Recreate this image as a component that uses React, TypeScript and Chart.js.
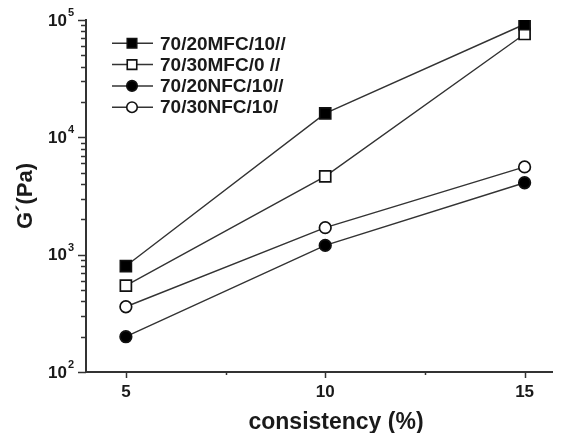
import React, { useEffect, useRef } from "react";
import { Chart, registerables } from "chart.js";

Chart.register(...registerables);

const consistency = [5, 10, 15];
const mfc20 = [800, 16000, 92000];
const mfc30 = [545, 4650, 76000];
const nfc20 = [200, 1200, 4100];
const nfc30 = [360, 1700, 5600];
const seriesNames = ["70/20MFC/10//", "70/30MFC/0 //", "70/20NFC/10//", "70/30NFC/10/"];
const xTickValues = [5, 7.5, 10, 12.5, 15];
const xTickLabels = ["5", "", "10", "", "15"];
const yDecades = [2, 3, 4, 5];
const xTitle = "consistency (%)";
const yTitle = "G´(Pa)";

const FONT = '"Liberation Sans", Arial, Helvetica, sans-serif';
const INK = "#1a1a1a";
const AXIS = "#333333";

type Marker = { style: "rect" | "circle"; filled: boolean };
const markers: Marker[] = [
  { style: "rect", filled: true },
  { style: "rect", filled: false },
  { style: "circle", filled: true },
  { style: "circle", filled: false },
];

function drawMarker(ctx: CanvasRenderingContext2D, m: Marker, x: number, y: number, size: number) {
  ctx.save();
  ctx.lineWidth = 1.6;
  ctx.strokeStyle = "#111";
  ctx.fillStyle = m.filled ? "#000" : "#fff";
  ctx.beginPath();
  if (m.style === "rect") {
    ctx.rect(x - size / 2, y - size / 2, size, size);
  } else {
    ctx.arc(x, y, size / 2, 0, Math.PI * 2);
  }
  ctx.fill();
  ctx.stroke();
  ctx.restore();
}

const decorPlugin = {
  id: "decor",
  afterDraw(chart: any) {
    const ctx: CanvasRenderingContext2D = chart.ctx;
    const xs = chart.scales.x;
    const ys = chart.scales.y;
    const area = chart.chartArea;
    ctx.save();
    ctx.strokeStyle = AXIS;
    ctx.lineWidth = 1.5;
    // y tick marks (major + minor log)
    for (const k of yDecades) {
      for (let m = 1; m <= 9; m++) {
        const v = m * Math.pow(10, k);
        const py = Math.round(ys.getPixelForValue(v)) + 0.5;
        const len = m === 1 ? 8 : 5;
        ctx.beginPath();
        ctx.moveTo(area.left - len, py);
        ctx.lineTo(area.left, py);
        ctx.stroke();
        if (k === 5) break;
      }
    }
    // x tick marks
    xTickValues.forEach((v, i) => {
      const px = Math.round(xs.getPixelForValue(v)) + 0.5;
      const len = xTickLabels[i] ? 6 : 3;
      ctx.beginPath();
      ctx.moveTo(px, area.bottom);
      ctx.lineTo(px, area.bottom + len);
      ctx.stroke();
    });
    // y tick labels with superscript exponents
    ctx.fillStyle = INK;
    for (const k of yDecades) {
      const py = ys.getPixelForValue(Math.pow(10, k));
      const expX = area.left - 12;
      ctx.font = `bold 11px ${FONT}`;
      ctx.textAlign = "right";
      ctx.textBaseline = "middle";
      const expW = ctx.measureText(String(k)).width;
      ctx.fillText(String(k), expX, py - 7);
      ctx.font = `bold 17px ${FONT}`;
      ctx.fillText("10", expX - expW - 1, py + 1);
    }
    // x axis title
    ctx.font = `bold 23px ${FONT}`;
    ctx.textAlign = "center";
    ctx.textBaseline = "middle";
    ctx.fillText(xTitle, 336, 423);
    // legend
    const lx0 = 112, lx1 = 153, mx = 132, tx = 160, ly0 = 43.3, dy = 21.3;
    seriesNames.forEach((name, i) => {
      const y = ly0 + i * dy;
      ctx.strokeStyle = AXIS;
      ctx.lineWidth = 1.5;
      ctx.beginPath();
      ctx.moveTo(lx0, y);
      ctx.lineTo(lx1, y);
      ctx.stroke();
      const mk = markers[i];
      drawMarker(ctx, mk, mx, y, mk.style === "rect" ? 9.5 : 10.5);
      ctx.fillStyle = INK;
      ctx.font = `bold 19px ${FONT}`;
      ctx.textAlign = "left";
      ctx.textBaseline = "middle";
      ctx.fillText(name, tx, y + 1);
    });
    ctx.restore();
  },
};

function makeDataset(label: string, values: number[], m: Marker) {
  return {
    label,
    data: consistency.map((x, i) => ({ x, y: values[i] })),
    borderColor: AXIS,
    borderWidth: 1.4,
    pointStyle: m.style,
    pointRadius: m.style === "rect" ? 7.8 : 5.8,
    pointBorderWidth: 1.7,
    pointBorderColor: "#111",
    pointBackgroundColor: m.filled ? "#000" : "#fff",
    tension: 0,
    fill: false,
  };
}

export default function App() {
  const ref = useRef<HTMLCanvasElement | null>(null);
  useEffect(() => {
    if (!ref.current) return;
    const chart = new Chart(ref.current, {
      type: "line",
      data: {
        datasets: [
          makeDataset(seriesNames[0], mfc20, markers[0]),
          makeDataset(seriesNames[1], mfc30, markers[1]),
          makeDataset(seriesNames[2], nfc20, markers[2]),
          makeDataset(seriesNames[3], nfc30, markers[3]),
        ],
      },
      options: {
        responsive: false,
        animation: false,
        layout: { padding: { left: 0, top: 20, right: 2, bottom: 0 } },
        plugins: { legend: { display: false }, tooltip: { enabled: false } },
        scales: {
          x: {
            type: "linear",
            min: 4,
            max: 15.7,
            afterBuildTicks: (s: any) => {
              s.ticks = xTickValues.map((v) => ({ value: v }));
            },
            afterFit: (s: any) => {
              s.height = 61;
            },
            ticks: {
              autoSkip: false,
              maxRotation: 0,
              padding: 10,
              color: INK,
              font: { family: FONT, size: 17, weight: "bold" },
              callback: (v: any) => {
                const i = xTickValues.indexOf(Number(v));
                return i >= 0 ? xTickLabels[i] : "";
              },
            },
            grid: { drawOnChartArea: false, drawTicks: false },
            border: { display: true, color: AXIS, width: 2 },
          },
          y: {
            type: "logarithmic",
            min: 100,
            max: 100000,
            afterFit: (s: any) => {
              s.width = 86;
            },
            ticks: { display: false },
            grid: { drawOnChartArea: false, drawTicks: false },
            border: { display: true, color: AXIS, width: 2 },
            title: {
              display: true,
              text: yTitle,
              color: INK,
              font: { family: FONT, size: 22, weight: "bold", lineHeight: 1 },
              padding: { top: 15, bottom: 0 },
            },
          },
        },
      },
      plugins: [decorPlugin],
    });
    return () => chart.destroy();
  }, []);
  return (
    <div style={{ position: "absolute", left: 0, top: 0, width: 562, height: 433, background: "#fff" }}>
      <canvas ref={ref} width={562} height={433} style={{ display: "block" }} />
    </div>
  );
}
